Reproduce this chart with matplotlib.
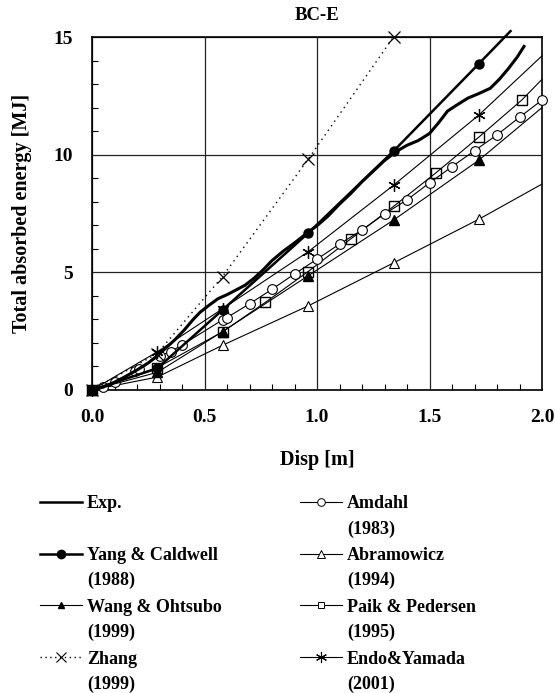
import numpy as np
import matplotlib
matplotlib.use('Agg')
import matplotlib.pyplot as plt
from matplotlib.lines import Line2D
from matplotlib.ticker import MultipleLocator

plt.rcParams['font.family'] = ['Liberation Serif', 'DejaVu Serif']
plt.rcParams['font.weight'] = 'bold'
plt.rcParams['axes.titleweight'] = 'bold'
plt.rcParams['axes.labelweight'] = 'bold'

# ---------------- data ----------------
exp_x = [0, 0.05, 0.1, 0.15, 0.2, 0.25, 0.29, 0.33, 0.37, 0.41, 0.45, 0.48, 0.52, 0.56, 0.60,
         0.64, 0.68, 0.72, 0.76, 0.80, 0.85, 0.90, 0.96, 1.0, 1.05, 1.10, 1.15, 1.2, 1.25, 1.30,
         1.35, 1.40, 1.45, 1.50, 1.54, 1.58, 1.62, 1.67, 1.72, 1.77, 1.81, 1.85, 1.89, 1.92]
exp_y = [0, 0.12, 0.33, 0.58, 0.85, 1.15, 1.45, 1.8, 2.15, 2.55, 3.0, 3.3, 3.6, 3.88, 4.05,
         4.25, 4.45, 4.75, 5.1, 5.5, 5.9, 6.25, 6.7, 6.98, 7.4, 7.9, 8.35, 8.85, 9.3, 9.75,
         10.12, 10.4, 10.6, 10.9, 11.35, 11.85, 12.1, 12.4, 12.6, 12.82, 13.2, 13.65, 14.15, 14.6]

yang_x = [0, 0.29, 0.58, 0.96, 1.34, 1.72, 1.86]
yang_y = [0, 0.92, 3.4, 6.66, 10.15, 13.87, 15.25]

wang_x = [0, 0.29, 0.58, 0.96, 1.34, 1.72, 2.0]
wang_y = [0, 0.75, 2.48, 4.85, 7.22, 9.77, 12.0]

zhang_x = [0, 0.29, 0.58, 0.96, 1.34]
zhang_y = [0, 1.55, 4.82, 9.8, 15.0]

amdahl_x = [0, 0.05, 0.10, 0.19, 0.21, 0.30, 0.35, 0.40, 0.58, 0.60, 0.70, 0.80, 0.90, 1.0,
            1.1, 1.2, 1.3, 1.4, 1.5, 1.6, 1.7, 1.8, 1.9, 2.0]
amdahl_y = [0, 0.14, 0.35, 0.80, 0.88, 1.45, 1.63, 1.91, 2.98, 3.08, 3.66, 4.28, 4.93, 5.56,
            6.2, 6.8, 7.48, 8.08, 8.8, 9.49, 10.17, 10.84, 11.59, 12.32]

abram_x = [0, 0.29, 0.58, 0.96, 1.34, 1.72, 2.0]
abram_y = [0, 0.55, 1.9, 3.57, 5.4, 7.26, 8.75]

paik_x = [0, 0.29, 0.58, 0.77, 0.96, 1.15, 1.34, 1.53, 1.72, 1.91, 2.0]
paik_y = [0, 0.95, 2.47, 3.72, 5.03, 6.42, 7.8, 9.24, 10.75, 12.32, 13.2]

endo_x = [0, 0.29, 0.58, 0.96, 1.34, 1.72, 2.0]
endo_y = [0, 1.62, 3.45, 5.87, 8.7, 11.69, 14.2]

labels = ['Exp.', 'Yang & Caldwell\n(1988)', 'Wang & Ohtsubo\n(1999)', 'Zhang\n(1999)',
          'Amdahl\n(1983)', 'Abramowicz\n(1994)', 'Paik & Pedersen\n(1995)', 'Endo&Yamada\n(2001)']

asterisk = (6, 2, 0)
# (x, y, style, markevery, legend style)
series = [
    (exp_x, exp_y, dict(lw=2.2, marker=None), None, dict(lw=1.8, marker=None)),
    (yang_x, yang_y, dict(lw=1.8, marker='o', ms=6.5, mfc='k'), list(range(6)),
     dict(lw=1.8, marker='o', ms=6, mfc='k')),
    (wang_x, wang_y, dict(lw=0.8, marker='^', ms=6.5, mfc='k'), list(range(6)),
     dict(lw=0.8, marker='^', ms=5, mfc='k')),
    (zhang_x, zhang_y, dict(lw=1.0, ls=(0, (1, 3)), marker='x', ms=8, mew=0.9), None,
     dict(lw=1.0, ls=(0, (1, 2.5)), marker='x', ms=7, mew=0.8)),
    (amdahl_x, amdahl_y, dict(lw=0.8, marker='o', ms=7, mfc='w', mew=0.8), list(range(1, 24)),
     dict(lw=0.8, marker='o', ms=5.5, mfc='w', mew=0.7)),
    (abram_x, abram_y, dict(lw=0.8, marker='^', ms=7, mfc='w', mew=0.8), list(range(6)),
     dict(lw=0.8, marker='^', ms=5.5, mfc='w', mew=0.7)),
    (paik_x, paik_y, dict(lw=0.8, marker='s', ms=6.5, mfc='none', mew=1.0), list(range(10)),
     dict(lw=0.8, marker='s', ms=5, mfc='w', mew=0.7)),
    (endo_x, endo_y, dict(lw=0.8, marker=asterisk, ms=9, mew=0.9), list(range(6)),
     dict(lw=0.8, marker=asterisk, ms=8, mew=0.8)),
]

W, H = 555, 693
fig = plt.figure(figsize=(W / 100, H / 100), dpi=100)
ax = fig.add_axes([92 / W, 1 - 390 / H, 450 / W, 353 / H])

order = [6, 5, 4, 7, 2, 3, 0, 1]
for i in order:
    x, y, st, me, _ = series[i]
    ax.plot(x, y, color='k', markevery=me, clip_on=False, zorder=3 + (i == 1), **st)

ax.set_xlim(0, 2)
ax.set_ylim(0, 15)
ax.set_xticks([0, 0.5, 1.0, 1.5, 2.0])
ax.set_xticklabels(['0.0', '0.5', '1.0', '1.5', '2.0'])
ax.set_yticks([0, 5, 10, 15])
ax.xaxis.set_minor_locator(MultipleLocator(0.1))
ax.yaxis.set_minor_locator(MultipleLocator(1))
ax.tick_params(which='major', length=0, labelsize=14, pad=14)
ax.tick_params(which='minor', direction='in', length=4, width=0.8)
ax.grid(True, which='major', color='#222222', lw=0.9)
for s in ax.spines.values():
    s.set_linewidth(1.2)
ax.set_xlabel('Disp [m]', fontsize=14.5, labelpad=17)
ax.set_ylabel('Total absorbed energy [MJ]', fontsize=14.5, labelpad=15)
ax.set_title('BC-E', fontsize=13.5, pad=12)

# legend drawn by hand: key aligned with first line of a two-line label
for k, (lab, s) in enumerate(zip(labels, series)):
    col, row = k // 4, k % 4
    x0 = 40 + col * 260
    yp = 502 + row * 51.7
    fy = 1 - yp / H
    kx = np.array([x0, x0 + 21, x0 + 42]) / W
    fig.add_artist(Line2D(kx, [fy] * 3, color='k', markevery=[1], **s[4]))
    lines = lab.split('\n')
    fig.text((x0 + 47) / W, fy, lines[0], fontsize=13, va='center_baseline', ha='left')
    if len(lines) > 1:
        fig.text((x0 + 47) / W, 1 - (yp + 25) / H, lines[1], fontsize=13,
                 va='center_baseline', ha='left')

fig.savefig('out.png', dpi=100)
